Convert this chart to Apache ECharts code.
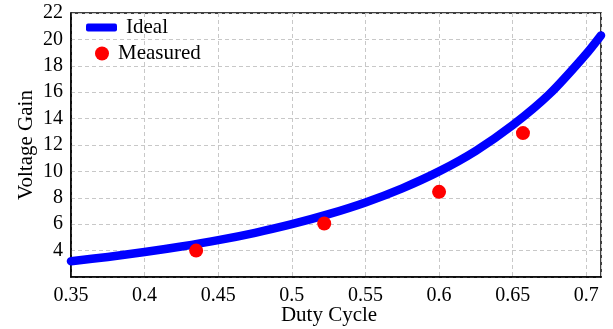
<!DOCTYPE html>
<html>
<head>
<meta charset="utf-8">
<script src="https://cdn.jsdelivr.net/npm/echarts@6/dist/echarts.min.js"></script>
<style>
html,body{margin:0;padding:0;background:#fff;}
#chart{width:613px;height:329px;}
</style>
</head>
<body>
<div id="chart"></div>
<script>
const dutyIdeal = [0.35, 0.375, 0.40, 0.425, 0.45, 0.475, 0.50, 0.525, 0.55, 0.575, 0.60, 0.625, 0.65, 0.675, 0.70, 0.71];
const gainIdeal = [3.2, 3.52, 3.89, 4.31, 4.79, 5.35, 6.0, 6.76, 7.65, 8.72, 10.0, 11.56, 13.5, 15.86, 18.9, 20.3];
const dutyMeasured = [0.435, 0.522, 0.600, 0.657];
const gainMeasured = [4.0, 6.05, 8.45, 12.9];
const xTicks = {min: 0.35, max: 0.71, step: 0.05};
const yTicks = {min: 2, max: 22, step: 2};

const font = 'Liberation Serif';
const chart = echarts.init(document.getElementById('chart'), null, {renderer: 'canvas'});
chart.setOption({
  animation: false,
  backgroundColor: '#fff',
  grid: {left: 71, right: 12, top: 13, bottom: 52, containLabel: false, outerBoundsMode: 'none',
         show: true, borderColor: '#000', borderWidth: 1.5, backgroundColor: 'transparent'},
  legend: [
    {data: [{name: 'Ideal', icon: 'roundRect'}], left: 86, top: 17, padding: 0, itemWidth: 31, itemHeight: 8, itemGap: 0,
     textStyle: {fontFamily: font, fontSize: 21, color: '#000', padding: [0, 0, 0, 4]}},
    {data: [{name: 'Measured', icon: 'circle'}], left: 95, top: 43, padding: 0, itemWidth: 14, itemHeight: 14,
     textStyle: {fontFamily: font, fontSize: 21, color: '#000', padding: [0, 0, 0, 4]}}
  ],
  xAxis: {
    type: 'value', min: xTicks.min, max: xTicks.max, interval: xTicks.step,
    name: 'Duty Cycle', nameLocation: 'middle', nameGap: 28, nameMoveOverlap: false,
    nameTextStyle: {fontFamily: font, fontSize: 21, color: '#000', padding: [0, 14, 0, 0]},
    axisLine: {show: true, lineStyle: {color: '#000', width: 1.5}},
    axisTick: {show: false},
    axisLabel: {fontFamily: font, fontSize: 20, color: '#000', margin: 9, showMaxLabel: false,
      formatter: v => String(+v.toFixed(2))},
    splitLine: {show: true, lineStyle: {color: '#c8c8c8', type: [4, 3], width: 1}}
  },
  yAxis: {
    type: 'value', min: yTicks.min, max: yTicks.max, interval: yTicks.step,
    name: 'Voltage Gain', nameLocation: 'middle', nameGap: 34, nameMoveOverlap: false,
    nameTextStyle: {fontFamily: font, fontSize: 21, color: '#000'},
    axisLine: {show: true, lineStyle: {color: '#000', width: 1.5}},
    axisTick: {show: false},
    axisLabel: {fontFamily: font, fontSize: 20, color: '#000', margin: 8, showMinLabel: false,
      formatter: v => String(+v.toFixed(0))},
    splitLine: {show: true, lineStyle: {color: '#c8c8c8', type: [4, 3], width: 1}}
  },
  series: [
    {name: 'Ideal', type: 'line', data: dutyIdeal.map((d, i) => [d, gainIdeal[i]]), smooth: 0.3,
     showSymbol: false, clip: false, color: '#0000ff',
     lineStyle: {color: '#0000ff', width: 8.5, cap: 'round', join: 'round'}, z: 3},
    {name: 'Measured', type: 'scatter', data: dutyMeasured.map((d, i) => [d, gainMeasured[i]]),
     symbol: 'circle', symbolSize: 14, itemStyle: {color: '#ff0000', opacity: 1}, z: 4}
  ]
});
</script>
</body>
</html>
